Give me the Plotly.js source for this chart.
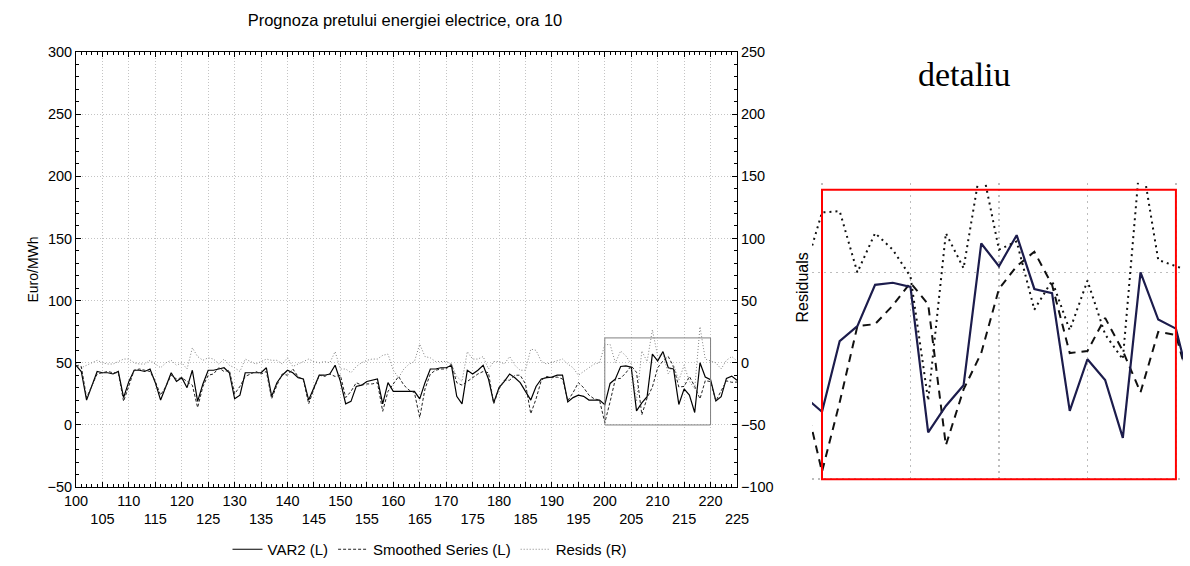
<!DOCTYPE html>
<html>
<head>
<meta charset="utf-8">
<script src="https://cdn.plot.ly/plotly-3.0.1.min.js"></script>
<style>
  html, body { margin: 0; padding: 0; background: #fff; }
  #chart { width: 1190px; height: 566px; }
</style>
</head>
<body>
<div id="chart"></div>
<script>
// ---- data ----
const dayStart = 100;   // first observation number on the x axis
const var2 = [
  48, 43, 20, 32, 43, 42, 42, 41, 43, 22,
  35, 44, 44, 43, 45, 34, 20, 31, 42, 35,
  38, 30, 44, 19, 33, 44, 44, 45, 46, 42,
  21, 24, 42, 42, 42, 42, 46, 23, 34, 40,
  44, 42, 38, 37, 20, 30, 40, 40, 41, 48,
  35, 17, 19, 31, 32, 35, 36, 37, 17, 34,
  27, 27, 27, 27, 27, 21, 34, 45, 45, 46,
  46, 48, 23, 17, 44, 41, 44, 48, 37, 18,
  30, 35, 41, 38, 34, 27, 20, 31, 37, 38,
  38.5, 40, 40, 18.5, 22, 24, 23, 20, 20, 20,
  16.3, 33.4, 37, 47, 47.5, 46.5, 11.3, 17.7, 22.7, 57,
  51.5, 59, 46, 45, 16.5, 29, 24, 10, 50, 38.6,
  36.4, 19.3, 22.7, 37.5, 39.3, 36
];
const smoothed = [
  48, 47, 22, 32, 41, 42, 43, 42, 42, 19,
  32, 44, 45, 44, 43, 35, 24, 31, 40, 37,
  38, 35, 32, 14, 31, 40, 41, 46, 43, 44,
  25, 31, 39, 41, 43, 41, 43, 21, 32, 41,
  40, 45, 39, 36, 17, 29, 40, 39, 41, 39,
  40, 22, 27, 34, 32, 33, 33, 34, 11, 27,
  33, 39, 32, 28, 26, 6, 29, 41, 44, 45,
  45, 49, 34, 32, 35, 38, 41, 43, 42, 17,
  29, 36, 36, 40, 40, 33, 9, 21, 36, 39,
  38, 38.5, 37, 19.5, 26, 34, 30, 24, 21, 20,
  1.8, 18.6, 37, 37.5, 42, 47.5, 42.3, 8.2, 21.7, 30.5,
  46, 51.5, 55, 47, 30.5, 31, 39, 31, 21, 35.6,
  34.9, 19.3, 27.7, 35.5, 34.3, 34.5
];
const resids = [
  0, -4, -2, 0, 2, 0, -1, -1, 1, 3,
  3, 0, -1, -1, 2, -1, -4, 0, 2, -2,
  0, -5, 12, 5, 2, 4, 3, -1, 3, -2,
  -4, -7, 3, 1, -1, 1, 3, 2, 2, -1,
  4, -3, -1, 1, 3, 1, 0, 1, 0, 9,
  -5, -5, -8, -3, 0, 2, 3, 3, 6, 7,
  -6, -12, -5, -1, 1, 15, 5, 4, 1, 1,
  1, -1, -11, -15, 9, 3, 3, 5, -5, 1,
  1, -1, 5, -2, -6, -6, 11, 10, 1, -1,
  0.5, 1.5, 3, -1, -4, -10, -7, -4, -1, 0,
  14.5, 14.8, 0, 9.5, 5.5, -1, -31, 9.5, 1, 26.5,
  5.5, 7.5, -9, -2, -14, -2, -15, -21, 29, 3,
  1.5, 0, -5, 2, 5, 1.5
];
const days = var2.map((_, i) => dayStart + i);

const xTickVals = [100,105,110,115,120,125,130,135,140,145,150,155,160,165,170,175,180,185,190,195,200,205,210,215,220,225];
const xTickText = xTickVals.map(v => (v % 10 === 0 ? String(v) : '<br>' + String(v)));

const titleText = 'Prognoza pretului energiei electrice, ora 10';
const leftTitle = 'Euro/MWh';
const insetTitle = 'detaliu';
const insetAxisLabel = 'Residuals';
const seriesNames = ['VAR2 (L)', 'Smoothed Series (L)', 'Resids (R)'];
const boxX = [200, 220];
const boxY = [0, 70];

// ---- geometry helpers (pixels -> paper) ----
const W = 1190, H = 566;
const px = X => X / W;
const py = Y => 1 - Y / H;

const FONT = 'Liberation Sans, Arial, sans-serif';

const traces = [
  { x: days, y: var2, name: seriesNames[0], type: 'scatter', mode: 'lines',
    xaxis: 'x', yaxis: 'y', line: { color: '#000', width: 1.2 } },
  { x: days, y: smoothed, name: seriesNames[1], type: 'scatter', mode: 'lines',
    xaxis: 'x', yaxis: 'y', line: { color: '#222', width: 1, dash: '3px,2px' } },
  { x: days, y: resids, name: seriesNames[2], type: 'scatter', mode: 'lines',
    xaxis: 'x', yaxis: 'y2', line: { color: '#808080', width: 1, dash: '1px,2px' } },
  // inset (detail)
  { x: days, y: resids, type: 'scatter', mode: 'lines', showlegend: false, hoverinfo: 'skip',
    xaxis: 'x3', yaxis: 'y4', line: { color: '#111', width: 2, dash: '2px,4px' } },
  { x: days, y: smoothed, type: 'scatter', mode: 'lines', showlegend: false, hoverinfo: 'skip',
    xaxis: 'x3', yaxis: 'y3', line: { color: '#111', width: 2, dash: '8px,6px' } },
  { x: days, y: var2, type: 'scatter', mode: 'lines', showlegend: false, hoverinfo: 'skip',
    xaxis: 'x3', yaxis: 'y3', line: { color: '#1c1c4c', width: 2.2 } }
];

const gridCol = '#c4c4c4';
const gridDash = '1px,2px';

const layout = {
  width: W, height: H,
  margin: { l: 0, r: 0, t: 0, b: 0 },
  paper_bgcolor: '#fff', plot_bgcolor: 'rgba(0,0,0,0)',
  font: { family: FONT, size: 14, color: '#000' },
  showlegend: true,
  title: { text: titleText, x: px(405), xanchor: 'center', xref: 'paper',
           y: py(20), yanchor: 'middle', yref: 'paper',
           font: { family: FONT, size: 16.5, color: '#000' } },
  legend: { orientation: 'h', x: px(430), xanchor: 'center', y: py(550), yanchor: 'middle',
            font: { family: FONT, size: 15 }, bgcolor: 'rgba(0,0,0,0)', itemwidth: 30,
            tracegroupgap: 0 },
  xaxis: {
    domain: [px(76), px(737)], anchor: 'y', range: [100, 225],
    tickmode: 'array', tickvals: xTickVals, ticktext: xTickText, tickangle: 0,
    ticks: 'inside', ticklen: 5, tickcolor: '#000',
    showline: true, linecolor: '#000', linewidth: 1, mirror: 'ticks',
    showgrid: true, gridcolor: gridCol, griddash: gridDash, gridwidth: 1, zeroline: false,
    minor: { tickmode: 'linear', tick0: 100, dtick: 1, ticks: 'inside', ticklen: 3, tickcolor: '#000', showgrid: false },
    tickfont: { family: FONT, size: 14.5 }
  },
  yaxis: {
    domain: [py(488), py(52)], anchor: 'x', range: [-50, 300],
    tickmode: 'linear', tick0: 0, dtick: 50,
    ticks: 'inside', ticklen: 5, tickcolor: '#000',
    showline: true, linecolor: '#000', linewidth: 1,
    showgrid: true, gridcolor: gridCol, griddash: gridDash, zeroline: false,
    minor: { tickmode: 'linear', tick0: 0, dtick: 10, ticks: 'inside', ticklen: 3, tickcolor: '#000', showgrid: false },
    tickfont: { family: FONT, size: 14.5 }
  },
  yaxis2: {
    overlaying: 'y', side: 'right', anchor: 'x', range: [-100, 250],
    tickmode: 'linear', tick0: 0, dtick: 50,
    ticks: 'inside', ticklen: 5, tickcolor: '#000',
    showline: true, linecolor: '#000', linewidth: 1,
    showgrid: false, zeroline: false,
    minor: { tickmode: 'linear', tick0: 0, dtick: 10, ticks: 'inside', ticklen: 3, tickcolor: '#000', showgrid: false },
    tickfont: { family: FONT, size: 14.5 }
  },
  xaxis3: {
    domain: [px(812), px(1183)], anchor: 'y3', range: [199.435, 220.4],
    tickmode: 'linear', tick0: 200, dtick: 5, showticklabels: false, ticks: '',
    showline: false, zeroline: false,
    showgrid: true, gridcolor: '#bdbdbd', griddash: '2px,4px', gridwidth: 1.5
  },
  yaxis3: {
    domain: [py(482), py(183)], anchor: 'x3', range: [-0.48, 71.7],
    tickmode: 'linear', tick0: 0, dtick: 50, showticklabels: false, ticks: '',
    showline: false, zeroline: false,
    showgrid: true, gridcolor: '#bdbdbd', griddash: '2px,4px', gridwidth: 1.5
  },
  yaxis4: {
    overlaying: 'y3', anchor: 'x3', range: [-50.48, 21.7],
    showticklabels: false, ticks: '', showline: false, showgrid: false, zeroline: false
  },
  shapes: [
    { type: 'rect', xref: 'x', yref: 'y', x0: boxX[0], x1: boxX[1], y0: boxY[0], y1: boxY[1],
      line: { color: '#808080', width: 1 }, fillcolor: 'rgba(0,0,0,0)', layer: 'above' },
    { type: 'rect', xref: 'x3', yref: 'y3', x0: boxX[0], x1: boxX[1], y0: boxY[0], y1: boxY[1],
      line: { color: '#ff0000', width: 2 }, fillcolor: 'rgba(0,0,0,0)', layer: 'above' }
  ],
  annotations: [
    { text: leftTitle, xref: 'paper', yref: 'paper', x: px(33), y: py(270),
      xanchor: 'center', yanchor: 'middle', textangle: -90, showarrow: false,
      font: { family: FONT, size: 14 } },
    { text: insetTitle, xref: 'paper', yref: 'paper', x: px(964), y: py(75),
      xanchor: 'center', yanchor: 'middle', showarrow: false,
      font: { family: 'Liberation Serif, Times New Roman, serif', size: 34 } },
    { text: insetAxisLabel, xref: 'paper', yref: 'paper', x: px(802), y: py(288),
      xanchor: 'center', yanchor: 'middle', textangle: -90, showarrow: false,
      font: { family: FONT, size: 16 } }
  ]
};

Plotly.newPlot('chart', traces, layout, { displayModeBar: false, staticPlot: true });
</script>
</body>
</html>
